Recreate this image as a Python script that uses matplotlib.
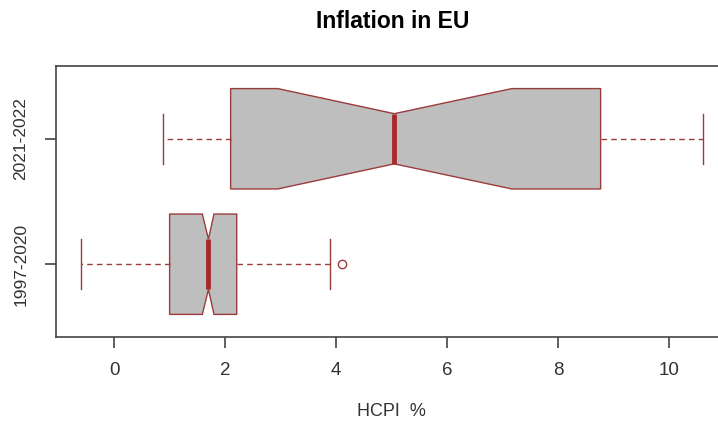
import matplotlib.pyplot as plt

# Data (HCPI %)
groups = ['1997-2020', '2021-2022']
whislo = [-0.60, 0.88]
q1 = [1.00, 2.10]
med = [1.70, 5.05]
q3 = [2.21, 8.77]
whishi = [3.89, 10.61]
cilo = [1.59, 2.95]
cihi = [1.80, 7.17]
fliers = [[4.10], []]

edge = '#9b3c3c'

plt.rcParams['font.family'] = ['Liberation Sans', 'DejaVu Sans']

stats = []
for i in range(len(groups)):
    stats.append(dict(label=groups[i], whislo=whislo[i], q1=q1[i], med=med[i],
                      q3=q3[i], whishi=whishi[i], cilo=cilo[i], cihi=cihi[i],
                      fliers=fliers[i]))

fig = plt.figure(figsize=(7.18, 4.21), dpi=100)
ax = fig.add_axes([56 / 718, 1 - 337 / 421, (727 - 56) / 718, (337 - 66) / 421])

ax.bxp(stats, positions=[1, 2], vert=False, widths=0.8, capwidths=0.4,
       shownotches=True, patch_artist=True,
       boxprops=dict(facecolor='#bebebe', edgecolor=edge, linewidth=1),
       whiskerprops=dict(color=edge, linestyle=(0, (4, 3)), linewidth=1),
       capprops=dict(color=edge, linewidth=1),
       medianprops=dict(color='#a52a2a', linewidth=3.5, solid_capstyle='butt'),
       flierprops=dict(marker='o', markerfacecolor='none', markeredgecolor=edge,
                       markersize=6, markeredgewidth=1))

ax.set_xlim(-1.048, 11.048)
ax.set_ylim(0.42, 2.58)
ax.set_xticks([0, 2, 4, 6, 8, 10])
ax.set_yticks([1, 2])
ax.set_yticklabels(groups, rotation=90, va='center')

for s in ax.spines.values():
    s.set_color('#444444')
    s.set_linewidth(1.2)
ax.tick_params(colors='#333333', labelsize=13.5, length=8, width=1.1, pad=10)
ax.tick_params(axis='y', labelsize=12.5, pad=12)

ax.set_xlabel('HCPI  %', fontsize=13, color='#333333', labelpad=17)
fig.text(393 / 718, 1 - 22 / 421, 'Inflation in EU', fontsize=16.5,
         fontweight='bold', ha='center', va='center')

fig.savefig('out.png', dpi=100)
